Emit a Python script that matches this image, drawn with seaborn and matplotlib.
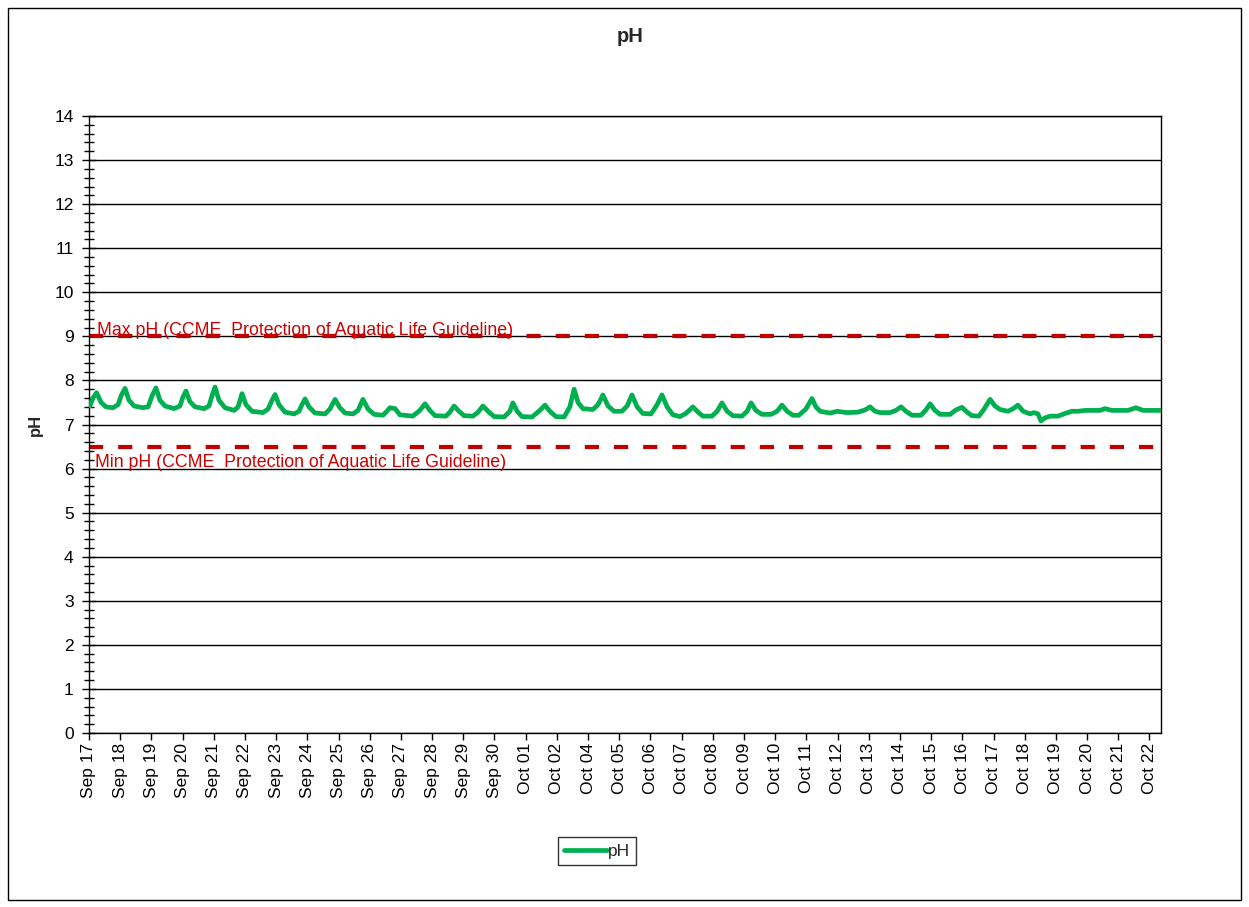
import matplotlib
matplotlib.use("Agg")
import matplotlib.pyplot as plt
import matplotlib.patches as mpatches
from matplotlib.ticker import MultipleLocator
import numpy as np
import pandas as pd
import seaborn as sns

# ---------------- data ----------------
# time in days since the start of Sep 17, pH values
days = [0.03, 0.13, 0.25, 0.40, 0.56, 0.79, 0.96, 1.06, 1.19, 1.32, 1.49, 1.78, 1.95, 2.08, 2.21,
        2.34, 2.51, 2.81, 3.00, 3.10, 3.20, 3.33, 3.50, 3.80, 3.96, 4.06, 4.16, 4.29, 4.49, 4.79,
        4.92, 5.05, 5.18, 5.38, 5.74, 5.91, 6.04, 6.14, 6.27, 6.47, 6.77, 6.93, 7.03, 7.13, 7.26,
        7.46, 7.79, 7.95, 8.12, 8.28, 8.45, 8.71, 8.88, 9.04, 9.21, 9.41, 9.70, 9.83, 9.93, 10.10,
        10.26, 10.69, 10.92, 11.09, 11.25, 11.42, 11.78, 11.91, 12.05, 12.21, 12.38, 12.67, 12.84,
        13.00, 13.17, 13.37, 13.70, 13.89, 13.99, 14.13, 14.29, 14.62, 14.88, 15.05, 15.21, 15.41,
        15.68, 15.87, 16.01, 16.14, 16.30, 16.63, 16.80, 16.96, 17.13, 17.33, 17.59, 17.76, 17.92,
        18.09, 18.28, 18.55, 18.75, 18.91, 19.08, 19.27, 19.50, 19.70, 19.93, 20.10, 20.26, 20.56,
        20.73, 20.89, 21.06, 21.25, 21.55, 21.72, 21.85, 22.01, 22.21, 22.51, 22.71, 22.87, 23.04,
        23.23, 23.43, 23.66, 23.86, 23.99, 24.13, 24.46, 24.69, 25.02, 25.38, 25.61, 25.78, 25.94,
        26.11, 26.44, 26.63, 26.80, 26.96, 27.16, 27.46, 27.62, 27.76, 27.92, 28.09, 28.42, 28.61,
        28.81, 28.98, 29.14, 29.37, 29.54, 29.74, 29.90, 30.07, 30.33, 30.50, 30.66, 30.83, 31.06,
        31.19, 31.32, 31.42, 31.55, 31.72, 31.98, 32.21, 32.44, 32.64, 32.87, 33.37, 33.53, 33.76,
        34.29, 34.55, 34.79, 35.38]
ph = [7.42, 7.60, 7.72, 7.50, 7.40, 7.38, 7.45, 7.65, 7.82, 7.55, 7.42, 7.38, 7.40, 7.65, 7.83,
      7.55, 7.42, 7.36, 7.42, 7.62, 7.76, 7.52, 7.40, 7.36, 7.42, 7.65, 7.85, 7.55, 7.38, 7.32,
      7.40, 7.70, 7.45, 7.30, 7.27, 7.35, 7.55, 7.68, 7.45, 7.28, 7.24, 7.30, 7.45, 7.58, 7.40,
      7.26, 7.24, 7.35, 7.57, 7.38, 7.26, 7.24, 7.32, 7.57, 7.35, 7.23, 7.21, 7.30, 7.38, 7.36,
      7.22, 7.19, 7.32, 7.47, 7.32, 7.20, 7.19, 7.28, 7.42, 7.30, 7.20, 7.19, 7.28,
      7.42, 7.30, 7.18, 7.17, 7.30, 7.49, 7.30, 7.18, 7.17, 7.32, 7.44, 7.30, 7.18,
      7.17, 7.40, 7.80, 7.50, 7.36, 7.34, 7.45, 7.67, 7.42, 7.30, 7.30, 7.42, 7.67,
      7.40, 7.25, 7.24, 7.45, 7.67, 7.40, 7.22, 7.18, 7.25, 7.40, 7.28, 7.19, 7.19,
      7.30, 7.49, 7.30, 7.20, 7.19, 7.30, 7.49, 7.32, 7.23, 7.23, 7.30, 7.44, 7.30,
      7.21, 7.21, 7.35, 7.59, 7.40, 7.30, 7.26, 7.30, 7.27, 7.28, 7.33, 7.40, 7.30,
      7.27, 7.27, 7.32, 7.40, 7.30, 7.21, 7.21, 7.33, 7.47, 7.32, 7.23, 7.23, 7.33,
      7.39, 7.28, 7.20, 7.19, 7.35, 7.57, 7.42, 7.34, 7.30, 7.36, 7.44, 7.30, 7.24,
      7.27, 7.24, 7.08, 7.15, 7.19, 7.19, 7.25, 7.30, 7.30, 7.32, 7.32, 7.36, 7.32,
      7.32, 7.38, 7.32, 7.32]

date_labels = ["Sep 17", "Sep 18", "Sep 19", "Sep 20", "Sep 21", "Sep 22", "Sep 23", "Sep 24",
               "Sep 25", "Sep 26", "Sep 27", "Sep 28", "Sep 29", "Sep 30", "Oct 01", "Oct 02",
               "Oct 04", "Oct 05", "Oct 06", "Oct 07", "Oct 08", "Oct 09", "Oct 10", "Oct 11",
               "Oct 12", "Oct 13", "Oct 14", "Oct 15", "Oct 16", "Oct 17", "Oct 18", "Oct 19",
               "Oct 20", "Oct 21", "Oct 22"]
tick_step_days = 35 / 34
x_max_days = 35.38

max_ph_guideline = 9.0
min_ph_guideline = 6.5
max_label = "Max pH (CCME  Protection of Aquatic Life Guideline)"
min_label = "Min pH (CCME  Protection of Aquatic Life Guideline)"

# ---------------- style ----------------
sns.set_theme(style="white")
plt.rcParams["font.family"] = ["Liberation Sans", "DejaVu Sans"]

W, H = 1249, 907
fig = plt.figure(figsize=(W / 100, H / 100), dpi=100)
ax = fig.add_axes([89 / W, 1 - 733 / H, (1161 - 89) / W, (733 - 116) / H])

# outer border of the figure
fig.patches.append(mpatches.Rectangle((8 / W, 1 - 900 / H), (1241 - 8) / W, (900 - 8) / H,
                                      transform=fig.transFigure, fill=False,
                                      edgecolor="black", linewidth=1.0))

df = pd.DataFrame({"day": days, "pH": ph})

green = "#00B050"
red = "#C00000"
fs = 12.8

# gridlines
ax.set_axisbelow(True)
ax.yaxis.grid(True, which="major", color="black", linewidth=1.0)
ax.xaxis.grid(False)

# guidelines
ax.axhline(max_ph_guideline, color=red, linewidth=3.0, linestyle=(0, (3.4, 3.6)), zorder=2)
ax.axhline(min_ph_guideline, color=red, linewidth=3.0, linestyle=(0, (3.4, 3.6)), zorder=2)

sns.lineplot(data=df, x="day", y="pH", ax=ax, color=green, linewidth=3.4, label="pH",
             zorder=3)

ax.text(0.26, max_ph_guideline + 0.03, max_label, color="#CC0000", fontsize=fs,
        ha="left", va="baseline", zorder=4)
ax.text(0.20, 6.03, min_label, color="#CC0000", fontsize=fs,
        ha="left", va="baseline", zorder=4)

ax.set_xlim(0, x_max_days)
ax.set_ylim(0, 14)
ax.set_xticks([i * tick_step_days for i in range(len(date_labels))])
ax.set_xticklabels(date_labels, rotation=90, fontsize=12.5)
ax.yaxis.set_major_locator(MultipleLocator(1))
ax.yaxis.set_minor_locator(MultipleLocator(0.2))
ax.tick_params(axis="y", which="major", direction="inout", length=10, width=1,
               colors="black", labelsize=12.5, pad=6, left=True)
ax.tick_params(axis="y", which="minor", direction="inout", length=7, width=1,
               colors="black", left=True)
ax.tick_params(axis="x", which="major", direction="out", length=5, width=1,
               colors="black", pad=2, bottom=True)

for s in ax.spines.values():
    s.set_color("black")
    s.set_linewidth(1.0)

ax.set_xlabel("")
ax.set_ylabel("pH", fontsize=12, fontweight="bold", labelpad=8)
fig.text(630 / W, 1 - 36 / H, "pH", fontsize=14.5, fontweight="bold", ha="center", va="center")

leg = ax.legend(loc="center", bbox_to_anchor=(597 / W, 1 - 851 / H),
                bbox_transform=fig.transFigure, frameon=True, fancybox=False,
                edgecolor="black", fontsize=12.5, handlelength=2.5, handletextpad=0.05,
                borderpad=0.35, borderaxespad=0)
leg.get_frame().set_linewidth(1.0)

fig.savefig("out.png", dpi=100, facecolor="white")
